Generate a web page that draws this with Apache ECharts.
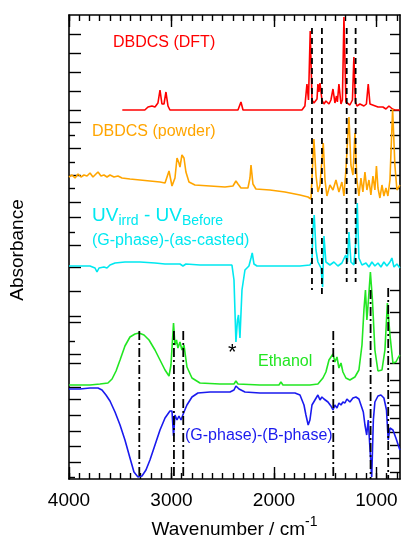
<!DOCTYPE html>
<html><head><meta charset="utf-8">
<script src="https://cdn.jsdelivr.net/npm/echarts@6/dist/echarts.min.js"></script>
<style>html,body{margin:0;padding:0;background:#fff}#c{width:401px;height:535px}</style>
</head><body><div id="c"></div>
<script>
// [wavenumber (cm-1), absorbance (offset, a.u.)]
const dftSpectrum = [[3480,369],[3260,369],[3229,372],[3190,373],[3161,372],[3132,376],[3112,389],[3093,375],[3073,375],[3054,387],[3034,373],[3015,369],[2351,369],[2322,377],[2302,369],[1727,369],[1698,373],[1678,395],[1663,379],[1646,448],[1629,379],[1610,376],[1580,380],[1571,395],[1561,387],[1551,396],[1532,379],[1512,375],[1493,378],[1463,375],[1444,379],[1424,390],[1405,376],[1390,383],[1381,377],[1366,395],[1346,375],[1332,379],[1317,462],[1298,377],[1283,375],[1259,374],[1234,379],[1220,422],[1205,377],[1190,373],[1161,375],[1122,373],[1098,375],[1080,395],[1063,375],[1044,373],[985,372],[937,372],[907,370],[878,373],[861,375],[844,370],[820,369],[771,369]];
const powderSpectrum = [[4000,302],[3971,304],[3941,301],[3912,305],[3883,302],[3854,304],[3824,303],[3795,306],[3766,302],[3737,305],[3717,307],[3688,303],[3659,304],[3629,302],[3600,304],[3561,302],[3522,303],[3483,301],[3405,300],[3307,299],[3210,298],[3112,297],[3063,296],[3024,308],[2995,293],[2966,301],[2946,321],[2927,316],[2917,312],[2898,324],[2878,321],[2859,307],[2829,297],[2771,294],[2624,293],[2478,292],[2400,293],[2371,298],[2351,295],[2322,291],[2254,291],[2234,301],[2224,314],[2205,295],[2176,290],[2039,289],[1893,287],[1746,284],[1668,282],[1639,280],[1610,340],[1590,304],[1571,287],[1551,294],[1519,336],[1502,299],[1483,283],[1454,294],[1424,289],[1395,299],[1366,287],[1337,297],[1317,283],[1298,309],[1268,362],[1249,314],[1229,304],[1210,346],[1190,299],[1171,283],[1151,301],[1132,287],[1112,307],[1093,289],[1073,299],[1054,284],[1034,303],[1015,289],[1000,313],[985,291],[966,281],[946,294],[927,283],[907,291],[888,283],[868,299],[842,370],[820,314],[800,289],[771,294]];
const uvDiffSpectrum = [[4000,213],[3893,213],[3795,213],[3746,211],[3727,207],[3707,211],[3688,209],[3659,212],[3629,211],[3600,214],[3551,216],[3454,217],[3307,217],[3161,216],[3063,215],[2917,215],[2888,213],[2859,215],[2722,214],[2527,214],[2410,214],[2390,199],[2371,137],[2356,159],[2346,164],[2332,141],[2312,189],[2283,209],[2244,213],[2224,221],[2212,226],[2195,215],[2166,213],[1941,213],[1746,213],[1649,214],[1629,217],[1620,249],[1607,264],[1590,229],[1571,217],[1541,211],[1525,192],[1512,243],[1493,217],[1454,214],[1415,217],[1376,213],[1337,216],[1300,224],[1283,217],[1268,247],[1249,217],[1220,214],[1200,239],[1187,276],[1171,221],[1141,214],[1102,216],[1073,212],[1044,217],[1015,213],[985,216],[956,212],[927,217],[898,213],[868,217],[849,221],[829,212],[800,215],[771,211]];
const ethanolSpectrum = [[4000,94],[3795,94],[3698,95],[3620,96],[3580,100],[3541,108],[3502,119],[3454,133],[3405,142],[3356,145],[3317,146],[3268,144],[3219,139],[3161,129],[3112,119],[3063,109],[3024,103],[3005,114],[2980,156],[2966,134],[2951,139],[2937,131],[2917,137],[2898,129],[2878,134],[2849,112],[2800,101],[2722,96],[2527,95],[2390,95],[2371,98],[2351,95],[2137,94],[1951,94],[1932,97],[1912,94],[1649,94],[1571,95],[1522,101],[1493,107],[1463,119],[1444,117],[1424,125],[1405,117],[1385,122],[1366,111],[1346,116],[1327,107],[1298,101],[1259,99],[1210,102],[1171,109],[1141,134],[1122,169],[1107,189],[1093,159],[1078,179],[1059,207],[1039,179],[1015,129],[985,108],[946,109],[917,129],[893,176],[868,144],[839,116],[810,117],[790,121],[771,124]];
const phaseDiffSpectrum = [[4000,90],[3893,90],[3795,91],[3717,91],[3678,89],[3639,84],[3600,78],[3551,67],[3502,54],[3454,39],[3405,21],[3366,7],[3327,2],[3288,3],[3249,9],[3210,19],[3161,34],[3112,49],[3063,61],[3015,68],[2995,68],[2980,43],[2966,64],[2946,59],[2927,63],[2907,59],[2878,67],[2849,74],[2800,82],[2742,86],[2624,87],[2429,87],[2390,89],[2371,93],[2341,90],[2283,87],[2137,86],[1941,86],[1795,86],[1746,84],[1707,74],[1688,64],[1666,54],[1649,59],[1629,74],[1600,79],[1571,84],[1551,79],[1532,82],[1512,80],[1493,81],[1473,77],[1444,73],[1424,69],[1405,74],[1385,71],[1366,76],[1346,74],[1327,77],[1307,76],[1288,80],[1259,77],[1229,81],[1200,82],[1171,80],[1151,74],[1128,67],[1112,54],[1095,44],[1080,59],[1063,59],[1046,2],[1030,59],[1015,77],[985,83],[956,84],[927,81],[902,69],[885,39],[868,51],[839,49],[810,41],[771,29]];

// reference lines
const dashedWn = [1629, 1532, 1290, 1203];
const dashedTop = [451, 451, 451, 451];
const dashedBottom = [189, 184, 197, 197];
const dashDotWn = [3314, 2976, 2885, 1421, 1057, 885];
const dashDotTop = [148, 148, 148, 148, 189, 191];
const dashDotBottom = [0, 0, 0, 0, 0, 0];

// axis ticks
const xMajorTicks = [1000, 2000, 3000, 4000];
const xMinorTicks = [800,900,1000,1100,1200,1300,1400,1500,1600,1700,1800,1900,2000,2100,2200,2300,2400,2500,2600,2700,2800,2900,3000,3100,3200,3300,3400,3500,3600,3700,3800,3900,4000];
const leftLongTicks = [445,426,407,388,369,357,331,304,277,262,234,212,188,163,157,125,116,92,80,64,48,33,17];
const leftShortTicks = [344,317,291,247,138,2];
const rightTicks = [445,426,407,388,369,357,344,331,317,304,291,277,262,247,189,167,147,116,99,87,74,61,47,34,21,7];

const FONT = 'Liberation Sans, Arial, Helvetica, sans-serif';
const X_MIN = 770, X_MAX = 4000, Y_MIN = 0, Y_MAX = 464;
const C = {red:'#ff0000', orange:'#ffa500', cyan:'#00e8f0', green:'#22e622', blue:'#1a1aee'};

const chart = echarts.init(document.getElementById('c'), null, {renderer:'canvas'});

function xAx(pos, tickLen, ticks, showLine, labels) {
  return {
    type:'value', position:pos, min:X_MIN, max:X_MAX, inverse:true,
    axisLine:{show:showLine, onZero:false, lineStyle:{color:'#000', width:1.6}},
    axisTick:{show:true, inside:true, length:tickLen, customValues:ticks, lineStyle:{color:'#000', width:1.4}},
    axisLabel:labels ? {show:true, customValues:xMajorTicks, fontSize:19, color:'#000', fontFamily:FONT, margin:12, formatter:v=>String(v)} : {show:false},
    splitLine:{show:false}
  };
}
function yAx(pos, tickLen, ticks, showLine) {
  return {
    type:'value', position:pos, min:Y_MIN, max:Y_MAX,
    axisLine:{show:showLine, onZero:false, lineStyle:{color:'#000', width:1.6}},
    axisTick:{show:true, inside:true, length:tickLen, customValues:ticks, lineStyle:{color:'#000', width:1.4}},
    axisLabel:{show:false}, splitLine:{show:false}
  };
}

const xAxes = [
  xAx('bottom', 6, xMinorTicks, true, true),
  xAx('bottom', 12, xMajorTicks, false, false),
  xAx('top', 6, xMinorTicks, true, false),
  xAx('top', 12, xMajorTicks, false, false)
];
xAxes[0].name = '{a|Wavenumber / cm}{b|-1}';
xAxes[0].nameLocation = 'middle';
xAxes[0].nameGap = 36;
xAxes[0].nameTextStyle = {rich:{
  a:{fontSize:19, fontFamily:FONT, color:'#000', verticalAlign:'bottom', lineHeight:24},
  b:{fontSize:14, fontFamily:FONT, color:'#000', verticalAlign:'top', lineHeight:24}
}};

function spectrum(data, color) {
  return {type:'line', data:data, xAxisIndex:0, yAxisIndex:0, showSymbol:false, symbol:'none',
    lineStyle:{color:color, width:1.6}, animation:false, z:2};
}
function vline(wn, y1, y2, dash) {
  return {type:'line', data:[[wn, y1],[wn, y2]], xAxisIndex:0, yAxisIndex:0, showSymbol:false, symbol:'none',
    lineStyle:{color:'#000', width:1.8, type:dash}, animation:false, z:3};
}

const series = [
  spectrum(dftSpectrum, C.red),
  spectrum(powderSpectrum, C.orange),
  spectrum(uvDiffSpectrum, C.cyan),
  spectrum(ethanolSpectrum, C.green),
  spectrum(phaseDiffSpectrum, C.blue)
];
dashedWn.forEach((w,i)=>series.push(vline(w, dashedTop[i], dashedBottom[i], [6,4])));
dashDotWn.forEach((w,i)=>series.push(vline(w, dashDotTop[i], dashDotBottom[i], [9,3,2,3])));

function label(text, x, y, color, size) {
  return {type:'text', left:x, top:y, z:10, style:{text:text, fill:color, fontSize:size, fontFamily:FONT}};
}

chart.setOption({
  backgroundColor:'#fff',
  animation:false,
  grid:{left:69, right:1, top:15, bottom:56, containLabel:false, outerBoundsMode:'none'},
  xAxis:xAxes,
  yAxis:[yAx('left', 12, leftLongTicks, true), yAx('left', 6, leftShortTicks, false), yAx('right', 10, rightTicks, true)],
  series:series,
  graphic:[
    label('DBDCS (DFT)', 113, 35, C.red, 16),
    label('DBDCS (powder)', 92, 124, C.orange, 16),
    {type:'text', left:92, top:206, z:10, style:{
      text:'{a|UV}{b|irrd}{a| - UV}{b|Before}', fill:C.cyan,
      rich:{
        a:{fontSize:19, fontFamily:FONT, fill:C.cyan, lineHeight:22, verticalAlign:'top'},
        b:{fontSize:14, fontFamily:FONT, fill:C.cyan, lineHeight:16, verticalAlign:'bottom'}
      }}},
    label('(G-phase)-(as-casted)', 92, 233, C.cyan, 16),
    label('Ethanol', 258, 354, C.green, 16),
    label('(G-phase)-(B-phase)', 185, 428, C.blue, 16),
    label('*', 228, 342, '#000', 22),
    {type:'text', x:18, y:250, rotation:Math.PI/2, z:10, style:{text:'Absorbance', fill:'#000', fontSize:19, fontFamily:FONT, align:'center', verticalAlign:'middle'}}
  ]
});
</script></body></html>
